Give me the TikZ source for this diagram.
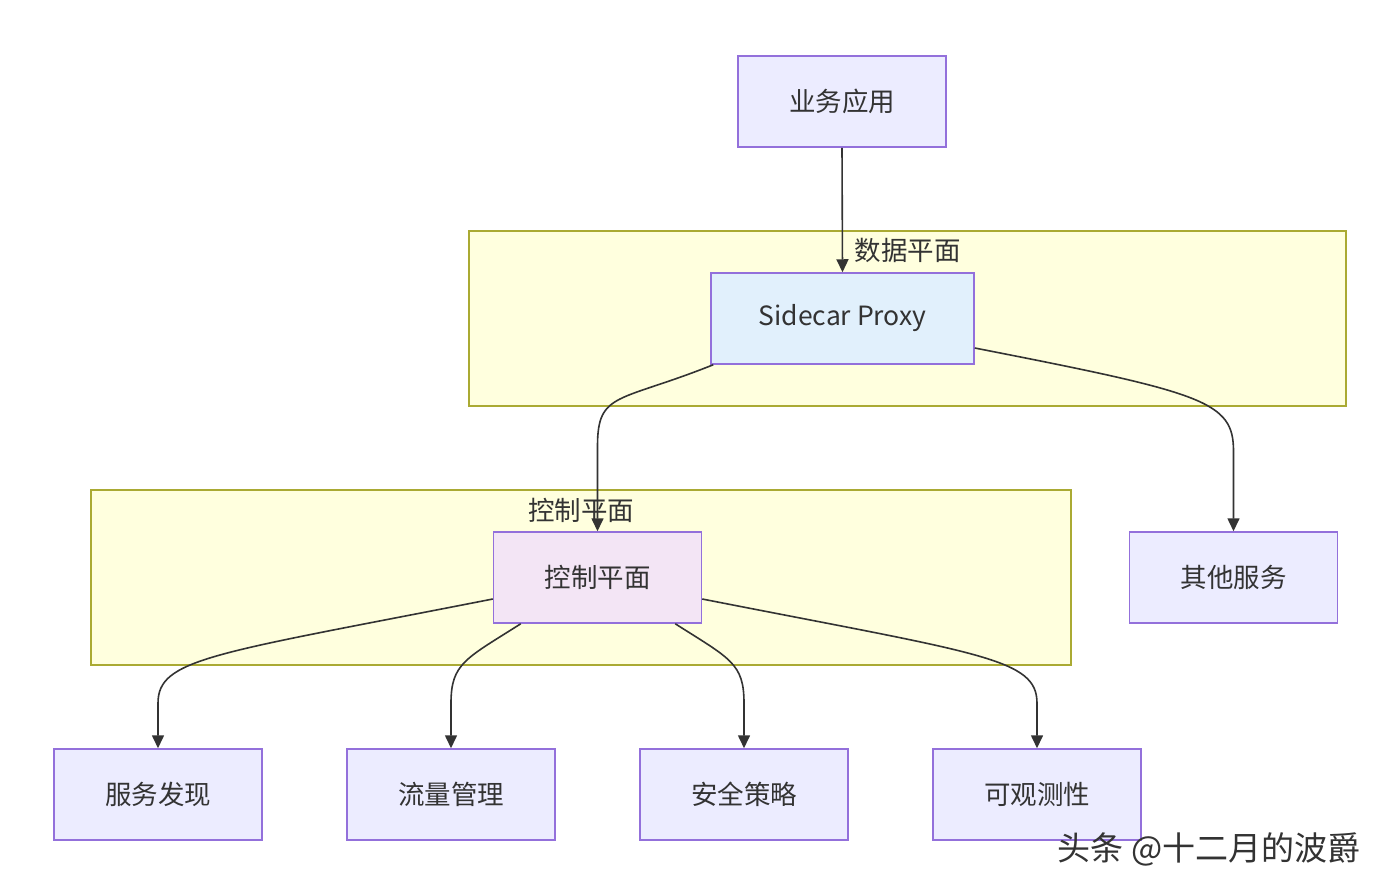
\documentclass[tikz,border=0pt]{standalone}
\usepackage{fontspec}
\setmainfont{Noto Sans CJK SC}
\usetikzlibrary{arrows.meta,calc}
\definecolor{nodefill}{HTML}{ECECFF}
\definecolor{nodestroke}{HTML}{9370DB}
\definecolor{clusterfill}{HTML}{FFFFDE}
\definecolor{clusterstroke}{HTML}{AAAA33}
\definecolor{txt}{HTML}{333333}
\definecolor{sidefill}{HTML}{E1F0FC}
\definecolor{ctlfill}{HTML}{F3E5F5}
\tikzset{
  box/.style={draw=nodestroke, fill=nodefill, line width=1.5pt, minimum width=208pt, minimum height=91pt, inner sep=0pt, text=txt, font=\fontsize{26.5}{31}\selectfont},
  cluster/.style={draw=clusterstroke, fill=clusterfill, line width=1.5pt, inner sep=0pt},
  clabel/.style={text=txt, font=\fontsize{26.5}{31}\selectfont, inner sep=0pt},
  edge/.style={draw=txt, line width=1.6pt, -{Triangle[length=13pt,width=12pt]}},
}
\begin{document}
\begin{tikzpicture}[x=1pt,y=-1pt]
\useasboundingbox[fill=white] (0,0) rectangle (1400,892);
% clusters
\node[cluster, minimum width=877pt, minimum height=175pt] (dp) at (907.5,318.5) {};
\node[clabel] (dpl) at (907.5,250) {数据平面};
\node[cluster, minimum width=980pt, minimum height=175pt] (cp) at (581,577.5) {};
\node[clabel] (cpl) at (581,510) {控制平面};
% nodes
\node[box] (app) at (842,101.5) {业务应用};
\node[box, fill=sidefill, minimum width=263pt] (sp) at (842.5,318.5) {Sidecar Proxy};
\node[box] (other) at (1233.5,577.5) {其他服务};
\node[box, fill=ctlfill] (ctl) at (597.5,577.5) {控制平面};
\node[box] (fd) at (158,794.5) {服务发现};
\node[box] (tm) at (451,794.5) {流量管理};
\node[box] (sec) at (744,794.5) {安全策略};
\node[box] (obs) at (1037,794.5) {可观测性};
% edges
\draw[edge] (app.south) -- (sp.north);
\draw[edge] ([xshift=3pt]sp.south west) .. controls +(-95,38) and +(0,-55) .. ($(ctl.north)+(0,-85)$) -- (ctl.north);
\draw[edge] ([yshift=-29.5pt]sp.east) .. controls +(230,45) and +(0,-50) .. ($(other.north)+(0,-80)$) -- (other.north);
\draw[edge] ([yshift=-21.5pt]ctl.west) .. controls +(-280,55) and +(0,-45) .. ($(fd.north)+(0,-45)$) -- (fd.north);
\draw[edge] ([xshift=28pt]ctl.south west) .. controls +(-55,35) and +(0,-40) .. ($(tm.north)+(0,-45)$) -- (tm.north);
\draw[edge] ([xshift=-27pt]ctl.south east) .. controls +(55,35) and +(0,-40) .. ($(sec.north)+(0,-45)$) -- (sec.north);
\draw[edge] ([yshift=-21.5pt]ctl.east) .. controls +(280,55) and +(0,-45) .. ($(obs.north)+(0,-45)$) -- (obs.north);
% watermark
\node[text=txt, font=\fontsize{33}{37}\selectfont, inner sep=0pt] (wm) at (1209,849) {头条 @十二月的波爵};
\end{tikzpicture}
\end{document}
